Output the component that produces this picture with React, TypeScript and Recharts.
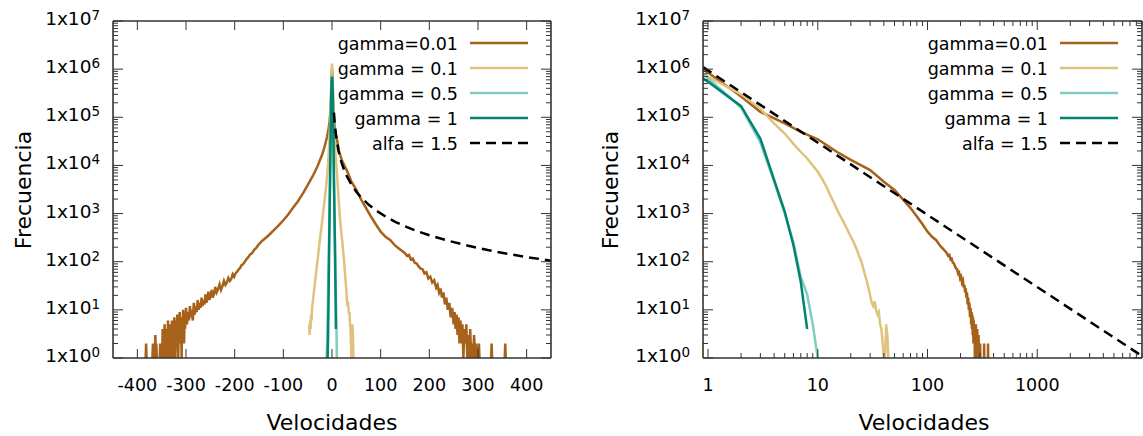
import React from 'react';
import { LineChart, Line, XAxis, YAxis } from 'recharts';

type Pt = [number, number | null];

// velocity, frequency (null = empty bin, gap in the curve)
const gamma001: Pt[] = [
  [-383, 1], [-382, 2], [-381, 1], [-380, null],
  [-369, 1], [-368, 2], [-367, 1], [-366, null],
  [-364, 1], [-363, 3], [-362, 1], [-361, 2], [-360, 1], [-359, null],
  [-354, 1], [-353, 2], [-352, 1], [-351, null],
  [-349, 1], [-348, 4], [-347, 1], [-346, 3], [-345, 1], [-344, 5], [-343, 2], [-342, 1],
  [-341, 3], [-340, 1], [-339, 4], [-338, 2], [-337, 6], [-336, 1], [-335, 3], [-334, 5],
  [-333, 1], [-332, 2], [-331, 4], [-330, 1], [-329, 6], [-328, 3], [-327, 1], [-326, 5],
  [-325, 2], [-324, 7], [-323, 3], [-322, 1], [-321, 4], [-320, 6], [-319, 2], [-318, 8],
  [-317, 4], [-316, 1], [-315, 5], [-314, 3], [-313, 9], [-312, 4], [-311, 2], [-310, 6],
  [-309, 1], [-308, 7], [-307, 3], [-306, 10], [-305, 5], [-304, 2], [-303, 8], [-302, 4],
  [-300, 11], [-298, 5], [-296, 9], [-294, 6], [-292, 12], [-290, 7], [-288, 10], [-286, 6],
  [-284, 14], [-282, 8], [-280, 12], [-278, 9], [-276, 16], [-274, 10], [-272, 14], [-270, 11],
  [-268, 18], [-266, 12], [-264, 16], [-262, 13], [-260, 21], [-258, 14], [-256, 17], [-254, 24],
  [-252, 16], [-250, 19], [-247, 26], [-245, 18], [-242, 22], [-240, 30], [-237, 23], [-234, 27],
  [-231, 34], [-228, 26], [-225, 31], [-222, 40], [-219, 33], [-216, 37], [-213, 46], [-210, 40],
  [-207, 44], [-204, 55], [-201, 49], [-198, 58], [-195, 62], [-192, 69], [-189, 74], [-186, 85],
  [-183, 88], [-180, 97], [-176, 112], [-172, 124], [-168, 142], [-164, 152], [-160, 177], [-156, 192],
  [-152, 220], [-148, 242], [-144, 270], [-140, 290],
  [-130, 355], [-120, 447], [-110, 560], [-100, 725], [-90, 955], [-80, 1320], [-70, 1800], [-60, 2600],
  [-50, 3900], [-40, 5900], [-30, 9500], [-20, 17000], [-15, 25000], [-10, 40000], [-7, 58000], [-5, 82000],
  [-3, 140000], [-2, 270000], [-1, 600000], [0, 1000000], [1, 850000], [2, 270000], [3, 130000], [5, 75000],
  [7, 50000], [10, 35000], [15, 19000], [20, 13000], [30, 8000], [40, 4600], [50, 3100], [60, 1950],
  [70, 1300], [80, 870], [90, 600], [100, 420], [110, 330], [120, 280], [130, 215], [140, 180],
  [150, 150], [154, 132], [158, 138], [162, 112], [166, 116], [170, 95], [174, 92], [178, 80],
  [182, 72], [186, 70], [190, 57], [194, 60], [198, 45], [202, 49], [206, 37], [210, 41],
  [214, 29], [217, 33], [220, 23], [223, 28], [226, 18], [229, 23], [232, 13], [235, 18],
  [238, 10], [241, 14], [244, 7], [247, 11], [250, 5], [252, 9], [254, 4], [256, 8],
  [258, 3], [260, 7], [262, 2], [264, 6], [266, 2], [268, 5], [270, 1], [272, 4],
  [274, 2], [276, 5], [278, 1], [280, 3], [282, 1], [284, 4], [286, 1], [288, 2],
  [290, 1], [292, 3], [294, 1], [296, 2], [298, 1], [299, null],
  [301, 1], [302, 2], [303, 1], [304, null],
  [327, 1], [328, 2], [329, 1], [330, null],
  [355, 1], [356, 2], [357, 1],
];

const gamma01: Pt[] = [
  [-47, 5], [-46, 3], [-45, 6], [-44, 4], [-43, 8], [-42, 6], [-41, 11], [-40, 13],
  [-38, 20], [-36, 30], [-34, 45], [-32, 70], [-30, 100], [-28, 150], [-26, 230], [-24, 340],
  [-22, 500], [-20, 730], [-18, 1100], [-16, 1600], [-14, 2400], [-12, 3700], [-10, 6000], [-8, 11000],
  [-6, 25000], [-5, 40000], [-4, 70000], [-3, 140000], [-2, 300000], [-1, 650000], [0, 1300000],
  [1, 700000], [2, 300000], [3, 150000], [4, 75000], [5, 46000], [6, 28000], [7, 19000], [8, 14000],
  [9, 10000], [10, 7400], [11, 5200], [12, 3600], [13, 2400], [14, 1700], [15, 1200], [16, 900],
  [17, 700], [18, 540], [19, 420], [20, 330], [21, 270], [22, 210], [23, 165], [24, 125],
  [25, 100], [26, 72], [27, 52], [28, 40], [29, 28], [30, 20], [31, 14], [32, 12],
  [33, 15], [34, 10], [35, 8], [36, 9], [37, 5], [38, 4], [39, 2], [40, 1],
  [41, 1], [42, 5], [43, 3], [44, 1],
];

const gamma05: Pt[] = [
  [-11, 1], [-10, 2], [-9, 6], [-8, 25], [-7, 90], [-6, 350], [-5, 1500], [-4, 6000],
  [-3, 30000], [-2, 150000], [-1, 500000], [0, 680000], [1, 650000], [2, 160000], [3, 30000], [4, 4600],
  [5, 1000], [6, 250], [7, 48], [8, 21], [9, 5], [10, 1],
];

const gamma1: Pt[] = [
  [-9, 1], [-8, 3], [-7, 20], [-6, 140], [-5, 900], [-4, 5000], [-3, 32000], [-2, 150000],
  [-1, 550000], [0, 700000], [1, 550000], [2, 170000], [3, 36000], [4, 5000], [5, 1100], [6, 220],
  [7, 38], [8, 4],
];

const alfaLeft: Pt[] = [
  [4, 125000], [5, 89000], [6, 68000], [8, 44000], [10, 31600], [13, 21000], [16, 15600], [20, 11200],
  [25, 8000], [30, 6100], [40, 4000], [50, 2830], [60, 2150], [75, 1540], [90, 1170], [110, 870],
  [130, 675], [150, 545], [175, 430], [200, 355], [240, 270], [280, 215], [320, 175], [360, 146],
  [400, 125], [450, 105],
];

const alfaRight: Pt[] = [[0.9, 1100000], [9000, 1.1]];

// right panel: value of each gamma curve where it enters at the left border
const edgeV = 0.9;
const edgeF = [970000, 760000, 800000, 640000];

const seriesNames = ['gamma=0.01', 'gamma = 0.1', 'gamma = 0.5', 'gamma = 1', 'alfa = 1.5'];
const seriesColors = ['#a6611a', '#dfc27d', '#80cdc1', '#018571', '#000000'];

const xTicksLin = [-400, -300, -200, -100, 0, 100, 200, 300, 400];
const xTicksLog = [1, 10, 100, 1000];
const yTicks = [1, 10, 100, 1000, 10000, 100000, 1000000, 10000000];
const minorSteps = [2, 3, 4, 5, 6, 7, 8, 9];

const yMinor = yTicks.slice(0, -1).flatMap((d) => minorSteps.map((m) => m * d));
const xMinorLog = xTicksLog.flatMap((d) => minorSteps.map((m) => m * d));

const toRows = (pts: Pt[]) => pts.map(([v, f]) => ({ v, f }));
const posRows = (pts: Pt[], start: number) => [
  { v: edgeV, f: start },
  ...pts.filter(([v]) => v > 0).map(([v, f]) => ({ v, f })),
];

const FONT = '"DejaVu Sans", sans-serif';
const BORDER = '#333';
const THIN = 0.01; // axes must have a non-zero size to be drawn
const legendY = [43, 68, 93, 118, 143];

const NoTick = () => null;

function YTick({ x, y, payload }: any) {
  const exp = Math.round(Math.log10(payload.value));
  return (
    <text x={x} y={y + 4} textAnchor="end" fontFamily={FONT} fontSize={18.5} fill="#000">
      1x10<tspan dy={-5} fontSize={13.5}>{exp}</tspan>
    </text>
  );
}

function XTick({ x, y, payload }: any) {
  return (
    <text x={x} y={y} textAnchor="middle" fontFamily={FONT} fontSize={17.5} fill="#000">
      {payload.value}
    </text>
  );
}

function LegendBlock({ textRight, x1, x2 }: { textRight: number; x1: number; x2: number }) {
  return (
    <g>
      {seriesNames.map((name, i) => (
        <g key={name}>
          <text x={textRight} y={legendY[i] + 7} textAnchor="end" fontFamily={FONT} fontSize={17.5} fill="#000">
            {name}
          </text>
          <line
            x1={x1}
            x2={x2}
            y1={legendY[i]}
            y2={legendY[i]}
            stroke={seriesColors[i]}
            strokeWidth={2.5}
            strokeDasharray={i === 4 ? '10 6' : undefined}
          />
        </g>
      ))}
    </g>
  );
}

function YAxes() {
  return [
    <YAxis key="l" yAxisId="l" scale="log" domain={[1, 1e7]} allowDataOverflow ticks={yTicks} interval={0}
      width={THIN} tickSize={-10} tickMargin={23} tick={<YTick />} axisLine={{ stroke: BORDER, strokeWidth: 1.6 }}
      tickLine={{ stroke: BORDER }} />,
    <YAxis key="lm" yAxisId="lm" scale="log" domain={[1, 1e7]} allowDataOverflow ticks={yMinor} interval={0}
      width={THIN} tickSize={-5} tick={NoTick} axisLine={false} tickLine={{ stroke: BORDER }} />,
    <YAxis key="r" yAxisId="r" orientation="right" scale="log" domain={[1, 1e7]} allowDataOverflow ticks={yTicks}
      interval={0} width={THIN} tickSize={-10} tick={NoTick} axisLine={{ stroke: BORDER, strokeWidth: 1.6 }}
      tickLine={{ stroke: BORDER }} />,
    <YAxis key="rm" yAxisId="rm" orientation="right" scale="log" domain={[1, 1e7]} allowDataOverflow ticks={yMinor}
      interval={0} width={THIN} tickSize={-5} tick={NoTick} axisLine={false} tickLine={{ stroke: BORDER }} />,
  ];
}

function series(rows: any[][], dashedRows: any[]) {
  return [
    ...rows.map((data, i) => (
      <Line key={seriesNames[i]} data={data} dataKey="f" xAxisId="b" yAxisId="l" type="linear"
        stroke={seriesColors[i]} strokeWidth={2.5} dot={false} activeDot={false}
        connectNulls={false} isAnimationActive={false} />
    )),
    <Line key="alfa" data={dashedRows} dataKey="f" xAxisId="b" yAxisId="l" type="linear"
      stroke={seriesColors[4]} strokeWidth={2.5} strokeDasharray="10 6" dot={false} activeDot={false}
      isAnimationActive={false} />,
  ];
}

function LeftChart() {
  const rows = [gamma001, gamma01, gamma05, gamma1].map(toRows);
  return (
    <LineChart width={570} height={436} margin={{ top: 21, right: 19, bottom: 78, left: 113 }}>
      <XAxis xAxisId="b" dataKey="v" type="number" domain={[-450, 450]} allowDataOverflow ticks={xTicksLin}
        interval={0} height={THIN} tickSize={-9} tickMargin={42} tick={<XTick />}
        axisLine={{ stroke: BORDER, strokeWidth: 1.6 }} tickLine={{ stroke: BORDER }} />
      <XAxis xAxisId="t" dataKey="v" orientation="top" type="number" domain={[-450, 450]} allowDataOverflow
        ticks={xTicksLin} interval={0} height={THIN} tickSize={-9} tick={NoTick}
        axisLine={{ stroke: BORDER, strokeWidth: 1.6 }} tickLine={{ stroke: BORDER }} />
      {YAxes()}
      {series(rows, toRows(alfaLeft))}
      <LegendBlock textRight={458} x1={470} x2={528} />
      <text x={332} y={430} textAnchor="middle" fontFamily={FONT} fontSize={22} fill="#000">Velocidades</text>
      <text transform="translate(31,190) rotate(-90)" textAnchor="middle" fontFamily={FONT} fontSize={22} fill="#000">
        Frecuencia
      </text>
    </LineChart>
  );
}

function RightChart() {
  const rows = [gamma001, gamma01, gamma05, gamma1].map((pts, i) => posRows(pts, edgeF[i]));
  return (
    <LineChart width={573} height={436} margin={{ top: 21, right: 1, bottom: 78, left: 133 }}>
      <XAxis xAxisId="b" dataKey="v" type="number" scale="log" domain={[0.9, 9000]} allowDataOverflow
        ticks={xTicksLog} interval={0} height={THIN} tickSize={-9} tickMargin={42} tick={<XTick />}
        axisLine={{ stroke: BORDER, strokeWidth: 1.6 }} tickLine={{ stroke: BORDER }} />
      <XAxis xAxisId="bm" dataKey="v" type="number" scale="log" domain={[0.9, 9000]} allowDataOverflow
        ticks={xMinorLog} interval={0} height={THIN} tickSize={-5} tick={NoTick} axisLine={false}
        tickLine={{ stroke: BORDER }} />
      <XAxis xAxisId="t" dataKey="v" orientation="top" type="number" scale="log" domain={[0.9, 9000]}
        allowDataOverflow ticks={xTicksLog} interval={0} height={THIN} tickSize={-9} tick={NoTick}
        axisLine={{ stroke: BORDER, strokeWidth: 1.6 }} tickLine={{ stroke: BORDER }} />
      <XAxis xAxisId="tm" dataKey="v" orientation="top" type="number" scale="log" domain={[0.9, 9000]}
        allowDataOverflow ticks={xMinorLog} interval={0} height={THIN} tickSize={-5} tick={NoTick}
        axisLine={false} tickLine={{ stroke: BORDER }} />
      {YAxes()}
      {series(rows, toRows(alfaRight))}
      <LegendBlock textRight={478} x1={490} x2={548} />
      <text x={354} y={430} textAnchor="middle" fontFamily={FONT} fontSize={22} fill="#000">Velocidades</text>
      <text transform="translate(48,190) rotate(-90)" textAnchor="middle" fontFamily={FONT} fontSize={22} fill="#000">
        Frecuencia
      </text>
    </LineChart>
  );
}

export default function App() {
  return (
    <div style={{ position: 'absolute', left: 0, top: 0, width: 1143, height: 436, background: '#fff' }}>
      <div style={{ position: 'absolute', left: 0, top: 0 }}>
        <LeftChart />
      </div>
      <div style={{ position: 'absolute', left: 570, top: 0 }}>
        <RightChart />
      </div>
    </div>
  );
}
